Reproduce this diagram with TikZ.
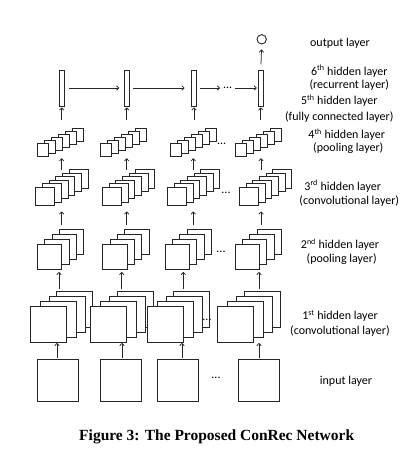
\documentclass[tikz,border=0pt]{standalone}
\usepackage{fontspec}
\setmainfont{Carlito}
\newfontfamily\capfont{Liberation Serif}
\usetikzlibrary{arrows.meta}
\begin{document}
\begin{tikzpicture}[x=1pt,y=-1pt,
  box/.style={draw=black!85,line width=1pt,fill=white,inner sep=0pt,outer sep=0pt,anchor=north west},
  arr/.style={-{To[length=3pt,width=5pt]},line width=0.75pt,black!85},
  lbl/.style={font=\fontsize{12}{14}\selectfont,inner sep=0pt,anchor=base},
  dotsty/.style={font=\fontsize{12}{14}\selectfont,inner sep=0pt,anchor=base}]
\useasboundingbox (0,0) rectangle (416,472);

% input layer
\foreach \c/\x in {1/37,2/100,3/157,4/238}
  \node[box,minimum width=41pt,minimum height=42pt] (in\c) at (\x,359) {};
\node[dotsty] (d0) at (216,378) {...};

% 1st hidden layer
\foreach \c/\X in {1/30,2/90.7,3/147.3,4/217.7}{
  \foreach \k/\dx/\dy in {3/26.5/15,2/19/10,1/10/5,0/0/0}
    \node[box,minimum width=36pt,minimum height=36pt] (l1c\c-\k) at ({\X+\dx},{306-\dy}) {};
}
\node[dotsty] (d1) at (207,320) {...};

% 2nd hidden layer
\foreach \c/\X in {1/37.3,2/102.7,3/165,4/235}{
  \foreach \k/\dx/\dy in {3/22/15,2/14.7/10,1/7.3/5,0/0/0}
    \node[box,minimum width=24.5pt,minimum height=25pt] (l2c\c-\k) at ({\X+\dx},{244-\dy}) {};
}
\node[dotsty] (d2) at (221,252) {...};

% 3rd hidden layer
\foreach \c/\X in {1/35.7,2/102.3,3/167.3,4/239.3}{
  \foreach \k in {5,4,3,2,1,0}
    \node[box,minimum width=19pt,minimum height=18.5pt] (l3c\c-\k) at ({\X+6.7*\k},{187-3.5*\k}) {};
}
\node[dotsty] (d3) at (226,193) {...};

% 4th hidden layer
\foreach \c/\X in {1/37.3,2/100,3/170,4/235}{
  \foreach \k in {5,4,3,2,1,0}
    \node[box,minimum width=11.5pt,minimum height=13pt] (l4c\c-\k) at ({\X+7*\k},{143.3-3*\k}) {};
}
\node[dotsty] (d4) at (221.7,144) {...};

% 5th/6th hidden layer bars
\foreach \c/\x in {1/61.7,2/126.7,3/194,4/260.8}
  \node[box,anchor=center,minimum width=5pt,minimum height=36pt] (bar\c) at (\x,88) {};
\node[dotsty] (d5) at (227.7,88) {...};

% output
\node[draw=black!85,circle,minimum size=9.4pt,inner sep=0pt,line width=0.9pt] (out) at (261.7,39.3) {};

% vertical arrows
\foreach \c/\a in {1/57,2/122,3/182,4/259}{
  \coordinate (ax) at (\a,0);
  \draw[arr,shorten <=1pt,shorten >=1pt] (in\c.north -| ax) -- (l1c\c-0.south -| ax);
}
\foreach \c/\a in {1/59,2/121.7,3/183.3,4/259}{
  \coordinate (ax) at (\a,0);
  \draw[arr,shorten <=2pt,shorten >=3pt] (l1c\c-3.north -| ax) -- (l2c\c-0.south -| ax);
}
\foreach \c/\a in {1/61.7,2/126.7,3/193.3,4/261}{
  \coordinate (ax) at (\a,0);
  \draw[arr,shorten <=4pt,shorten >=6pt] (l2c\c-3.north -| ax) -- (l3c\c-0.south -| ax);
  \draw[arr,shorten <=0pt,shorten >=2pt] (l3c\c-5.north -| ax) -- (l4c\c-0.south -| ax);
}
\foreach \c in {1,2,3,4}
  \draw[arr,shorten <=8.3pt,shorten >=1.5pt] (l4c\c-5.north -| bar\c) -- (bar\c.south);
\draw[arr,shorten <=5.7pt,shorten >=5pt] (bar4.north) -- (out.south);

% recurrent arrows
\draw[arr,shorten <=5pt,shorten >=5pt] (bar1.east) -- (bar2.west);
\draw[arr,shorten <=4pt,shorten >=7pt] (bar2.east) -- (bar3.west);
\draw[arr,shorten <=3.5pt,shorten >=3pt] (bar3.east) -- (d5.west |- bar3.east);
\draw[arr,shorten <=3pt,shorten >=1.6pt] (d5.east |- bar4.west) -- (bar4.west);

% labels
\node[lbl] (t0) at (340,46.8) {output layer};
\node[lbl] (t6a) at (349.3,75.2) {6\textsuperscript{th} hidden layer};
\node[lbl] (t6b) at (349.3,88.5) {(recurrent layer)};
\node[lbl] (t5a) at (339.3,104.5) {5\textsuperscript{th} hidden layer};
\node[lbl] (t5b) at (339.3,120.2) {(fully connected layer)};
\node[lbl] (t4a) at (346.7,138.5) {4\textsuperscript{th} hidden layer};
\node[lbl] (t4b) at (348.3,151.8) {(pooling layer)};
\node[lbl] (t3a) at (342.7,190.2) {3\textsuperscript{rd} hidden layer};
\node[lbl] (t3b) at (349.3,204.2) {(convolutional layer)};
\node[lbl] (t2a) at (340,248.5) {2\textsuperscript{nd} hidden layer};
\node[lbl] (t2b) at (341.7,262.8) {(pooling layer)};
\node[lbl] (t1a) at (340,319.5) {1\textsuperscript{st} hidden layer};
\node[lbl] (t1b) at (340,334.5) {(convolutional layer)};
\node[lbl] (tin) at (346,384.5) {input layer};

% caption
\node[inner sep=0pt,anchor=base,font=\capfont\bfseries\fontsize{15.5}{18}\selectfont] (cap) at (216.7,440.7) {Figure 3: The Proposed ConRec Network};
\end{tikzpicture}
\end{document}
